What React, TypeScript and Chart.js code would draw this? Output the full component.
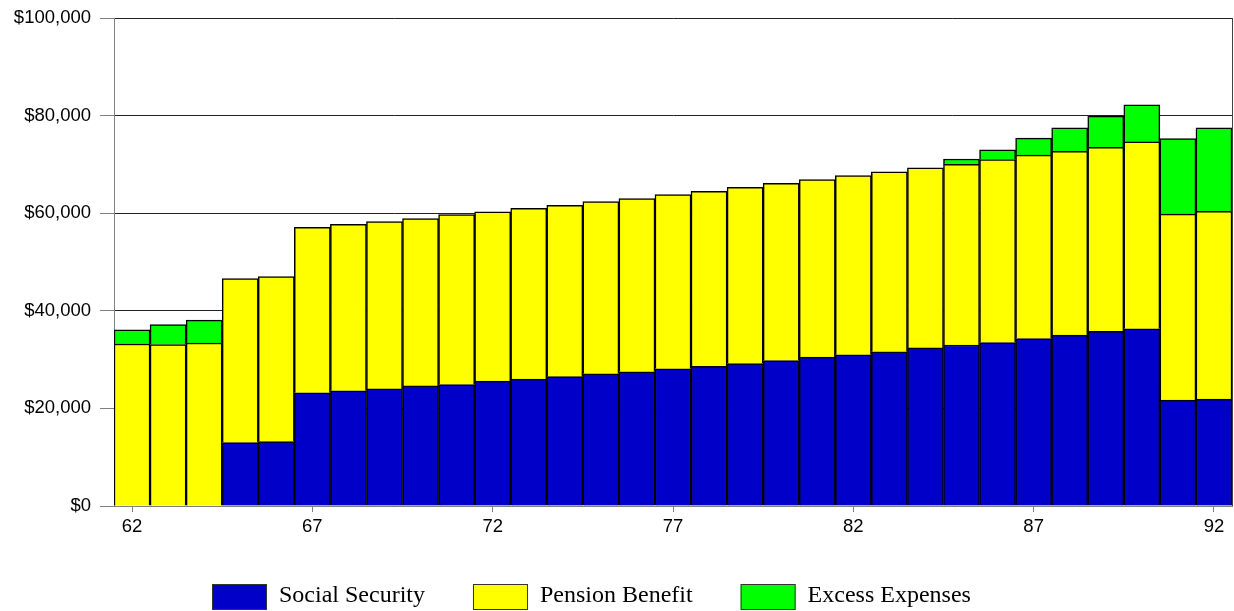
import React, { useEffect, useRef } from "react";
import { Chart, registerables } from "chart.js";

Chart.register(...registerables);

const ages: string[] = [
  "62", "63", "64", "65", "66", "67", "68", "69", "70", "71", "72",
  "73", "74", "75", "76", "77", "78", "79", "80", "81", "82", "83",
  "84", "85", "86", "87", "88", "89", "90", "91", "92",
];

const socialSecurity: (number | null)[] = [
  null, null, null, 13000, 13200, 23200, 23600, 24000, 24600, 24900, 25600,
  26000, 26500, 27100, 27500, 28100, 28600, 29200, 29800, 30500, 31000, 31600,
  32400, 33000, 33500, 34300, 35000, 35800, 36300, 21700, 21900,
];

const pensionBenefit: (number | null)[] = [
  33200, 33100, 33400, 33600, 33800, 33900, 34100, 34300, 34300, 34800, 34700,
  35000, 35100, 35300, 35500, 35700, 35900, 36100, 36300, 36400, 36700, 36900,
  36900, 37000, 37500, 37600, 37700, 37700, 38300, 38100, 38500,
];

const excessExpenses: (number | null)[] = [
  2900, 4100, 4700, null, null, null, null, null, null, null, null,
  null, null, null, null, null, null, null, null, null, null, null,
  null, 1100, 2000, 3500, 4800, 6400, 7600, 15500, 17100,
];

const seriesNames = ["Social Security", "Pension Benefit", "Excess Expenses"];
const seriesColors = ["#0000C8", "#FFFF00", "#00FF00"];

const yTicks = [0, 20000, 40000, 60000, 80000, 100000];

const frameAndLegend = {
  id: "frameAndLegend",
  afterDraw(chart: any) {
    const { ctx, chartArea } = chart;
    ctx.save();
    // right border of plot
    ctx.strokeStyle = "#404040";
    ctx.lineWidth = 1;
    ctx.beginPath();
    ctx.moveTo(Math.round(chartArea.right) + 0.5, chartArea.top);
    ctx.lineTo(Math.round(chartArea.right) + 0.5, chartArea.bottom);
    ctx.stroke();

    // legend
    const fontSize = 24;
    ctx.font = `${fontSize}px "Liberation Serif", "Times New Roman", serif`;
    const boxW = 55;
    const boxH = 26;
    const gapText = 12;
    const gapItem = 48;
    let x = 212;
    const y = 584;
    chart.data.datasets.forEach((d: any) => {
      ctx.fillStyle = d.backgroundColor;
      ctx.fillRect(x, y, boxW, boxH);
      ctx.strokeStyle = "#333";
      ctx.lineWidth = 1;
      ctx.strokeRect(x + 0.5, y + 0.5, boxW - 1, boxH - 1);
      ctx.fillStyle = "#000";
      ctx.textBaseline = "alphabetic";
      ctx.textAlign = "left";
      ctx.fillText(d.label, x + boxW + gapText, 602);
      x += boxW + gapText + ctx.measureText(d.label).width + gapItem;
    });
    ctx.restore();
  },
};

export default function App() {
  const canvasRef = useRef<HTMLCanvasElement | null>(null);

  useEffect(() => {
    if (!canvasRef.current) return;
    const tickFont = { family: 'Arial, "Liberation Sans", sans-serif', size: 18.5 };
    const mkDataset = (i: number, data: (number | null)[]) => ({
      label: seriesNames[i],
      data,
      backgroundColor: seriesColors[i],
      borderColor: "#000",
      borderWidth: 1.5,
      categoryPercentage: 1,
      barPercentage: 1,
    });
    const chart = new Chart(canvasRef.current, {
      type: "bar",
      data: {
        labels: ages,
        datasets: [
          mkDataset(0, socialSecurity),
          mkDataset(1, pensionBenefit),
          mkDataset(2, excessExpenses),
        ],
      },
      options: {
        animation: false,
        responsive: false,
        maintainAspectRatio: false,
        layout: { padding: { top: 18, right: 2, left: 0, bottom: 0 } },
        plugins: {
          legend: { display: false },
          tooltip: { enabled: false },
        },
        scales: {
          x: {
            stacked: true,
            afterFit: (scale: any) => {
              scale.height = 105;
            },
            grid: {
              display: true,
              drawOnChartArea: false,
              offset: false,
              tickLength: 6,
              color: (ctx: any) =>
                ctx.index !== undefined && (Number(ages[ctx.index]) - 62) % 5 === 0
                  ? "#808080"
                  : "rgba(0,0,0,0)",
            },
            border: { display: true, color: "#808080" },
            ticks: {
              autoSkip: false,
              maxRotation: 0,
              color: "#000",
              font: tickFont,
              padding: 4,
              callback: (_v: any, i: number) =>
                (Number(ages[i]) - 62) % 5 === 0 ? ages[i] : "",
            },
          },
          y: {
            stacked: true,
            min: 0,
            max: 100000,
            afterFit: (scale: any) => {
              scale.width = 114;
              scale.paddingTop = 0;
              scale.paddingBottom = 0;
            },
            afterBuildTicks: (scale: any) => {
              scale.ticks = yTicks.map((v) => ({ value: v }));
            },
            grid: {
              color: "#222",
              tickLength: 14,
              tickColor: "#808080",
            },
            border: { display: true, color: "#808080" },
            ticks: {
              color: "#000",
              font: tickFont,
              padding: 9,
              callback: (v: any) => "$" + Number(v).toLocaleString("en-US"),
            },
          },
        },
      },
      plugins: [frameAndLegend],
    });
    return () => chart.destroy();
  }, []);

  return (
    <div
      style={{
        position: "fixed",
        left: 0,
        top: 0,
        width: 1234,
        height: 611,
        background: "#fff",
      }}
    >
      <canvas ref={canvasRef} width={1234} height={611} />
    </div>
  );
}
